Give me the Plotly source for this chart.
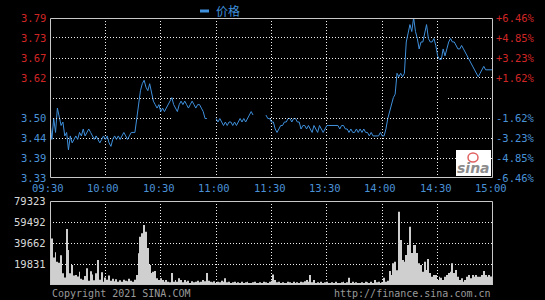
import plotly.graph_objects as go

# ---------------- data ----------------
minutes = list(range(241))
price = [
    3.49, 3.44, 3.50, 3.46, 3.53, 3.50, 3.48, 3.49, 3.45, 3.46,
    3.41, 3.45, 3.43, 3.44, 3.45, 3.44, 3.46, 3.45, 3.47, 3.45,
    3.46, 3.47, 3.46, 3.45, 3.44, 3.45, 3.44, 3.43, 3.44, 3.45,
    3.44, 3.45, 3.43, 3.42, 3.44, 3.45, 3.44, 3.45, 3.44, 3.45,
    3.46, 3.45, 3.44, 3.45, 3.46, 3.46, 3.46, 3.50, 3.54, 3.58,
    3.60, 3.61, 3.59, 3.58, 3.60, 3.57, 3.55, 3.54, 3.53, 3.54,
    3.52, 3.53, 3.52, 3.53, 3.54, 3.55, 3.56, 3.54, 3.53, 3.52,
    3.54, 3.55, 3.54, 3.55, 3.54, 3.53, 3.54, 3.55, 3.54, 3.53,
    3.54, 3.54, 3.53, 3.52, 3.50, 3.50, None, None, None, None,
    3.50, 3.49, 3.50, 3.49, 3.48, 3.49, 3.48, 3.49, 3.49, 3.48,
    3.49, 3.48, 3.49, 3.50, 3.49, 3.50, 3.49, 3.50, 3.51, 3.52,
    3.51, None, None, None, None, None, None, 3.51, 3.50, 3.50,
    3.49, 3.49, 3.47, 3.46, 3.47, 3.48, 3.48, 3.49, 3.49, 3.50,
    3.50, 3.49, 3.50, 3.50, 3.49, 3.49, 3.47, 3.48, 3.48, 3.47,
    3.48, 3.47, 3.46, 3.48, 3.47, 3.46, 3.48, 3.47, 3.46, 3.47,
    3.48, 3.48, 3.48, 3.48, 3.48, 3.48, 3.48, 3.47, 3.48, 3.48,
    3.47, 3.47, 3.46, 3.47, 3.46, 3.46, 3.47, 3.46, 3.47, 3.46,
    3.47, 3.46, 3.46, 3.45, 3.46, 3.45, 3.45, 3.45, 3.45, 3.46,
    3.45, 3.45, 3.47, 3.50, 3.52, 3.54, 3.56, 3.57, 3.63, 3.62,
    3.63, 3.62, 3.63, 3.72, 3.75, 3.77, 3.75, 3.79, 3.75, 3.73,
    3.70, 3.72, 3.72, 3.75, 3.77, 3.73, 3.72, 3.72, 3.73, 3.71,
    3.68, 3.67, 3.67, 3.70, 3.68, 3.70, 3.72, 3.73, 3.72, 3.72,
    3.71, 3.70, 3.70, 3.71, 3.70, 3.69, 3.68, 3.67, 3.66, 3.65,
    3.64, 3.63, 3.62, 3.63, 3.64, 3.65, 3.64, 3.64, 3.64, 3.64,
    3.64,
]
volume = [
    30000, 44000, 26000, 31000, 22000, 21000, 28000, 11000, 7000, 53000,
    33000, 11000, 19000, 9000, 9500, 8000, 12600, 6000, 5000, 8500,
    15700, 4000, 13000, 10000, 4500, 11000, 23600, 5000, 12000, 3000,
    7000, 5000, 9000, 4000, 6000, 3500, 5500, 3000, 4500, 3000,
    5000, 4000, 3500, 6000, 4000, 3000, 5000, 9400, 30000, 45600,
    48800, 56600, 50300, 34900, 18900, 11300, 12600, 13200, 6300, 4700,
    6300, 4700, 3100, 4700, 3100, 2500, 11300, 3000, 4700, 3100,
    6300, 4700, 2500, 4700, 3000, 4000, 2000, 3500, 2500, 3000,
    4000, 2500, 3000, 4700, 3500, 11300, 4000, 3000, 2500, 3500,
    2000, 3000, 2500, 4000, 3000, 6300, 2500, 3000, 2000, 2500,
    3000, 2000, 2500, 1500, 3000, 2000, 2500, 3000, 1500, 2000,
    2500, 3000, 2000, 1500, 2500, 2000, 3000, 2500, 2000, 3000,
    4000, 10000, 4700, 2500, 3000, 2000, 2500, 1500, 2000, 3000,
    2500, 2000, 3000, 1500, 2500, 2000, 3000, 2500, 3500, 4700,
    3000, 9400, 2500, 4700, 2000, 2500, 1500, 3000, 2000, 2500,
    3150, 2000, 1500, 2500, 2000, 3000, 1500, 2000, 2500, 3000,
    2000, 2500, 6900, 2000, 3000, 1500, 2500, 2000, 1500, 2500,
    2000, 3150, 2500, 2000, 3000, 1500, 4700, 2500, 3000, 2000,
    2500, 6900, 3000, 4000, 13200, 9400, 20500, 22000, 14000, 69200,
    42500, 23600, 22000, 28300, 37800, 55000, 30200, 37800, 37800, 30200,
    20500, 18900, 12600, 22000, 14200, 24500, 11300, 7900, 9400, 9400,
    4700, 7900, 6900, 4700, 7900, 9400, 11300, 12600, 20500, 11300,
    14200, 7900, 4700, 6300, 3100, 4700, 7900, 9400, 6300, 9400,
    7900, 9400, 7900, 7900, 9400, 13200, 9400, 7900, 9400, 8000,
    9000,
]
prev_close = 3.559
pct_labels = [6.46, 4.85, 3.23, 1.62, -1.62, -3.23, -4.85, -6.46]
vol_ticks = [79323, 59492, 39662, 19831]
time_labels = ["09:30", "10:00", "10:30", "11:00", "11:30", "13:30", "14:00", "14:30", "15:00"]
time_pos = [0, 30, 60, 90, 120, 150, 180, 210, 240]

# ---------------- style / geometry ----------------
W, H = 545, 300
L, R, T, B = 50, 52, 18, 15
plot_w = W - L - R
plot_h = H - T - B
PRICE_TOP, PRICE_BOT = 18, 178
VOL_TOP, VOL_BOT = 201, 285


def py(pix):  # pixel y -> paper y
    return (H - B - pix) / plot_h


def px(pix):  # pixel x -> paper x
    return (pix - L) / plot_w


RED = "#d02626"
BLUE = "#4a92d8"
GRID = "#f0f0f0"
DOT = "1px,2px"
FONT = "DejaVu Sans Mono"

ymax = prev_close * (1 + pct_labels[0] / 100)
ymin = prev_close * (1 + pct_labels[-1] / 100)
levels = [prev_close * (1 + p / 100) for p in pct_labels]


def price_pix(v):
    return PRICE_TOP + (ymax - v) / (ymax - ymin) * (PRICE_BOT - PRICE_TOP)


def snap(p):
    return round(p) + 0.5


fig = go.Figure()
fig.add_trace(go.Bar(x=minutes, y=volume, marker=dict(color="#cfcfcf", line=dict(width=0)),
                     xaxis="x2", yaxis="y2", showlegend=False))
fig.add_trace(go.Scatter(x=minutes, y=price, mode="lines", line=dict(color="#3f90dc", width=1),
                         xaxis="x", yaxis="y", showlegend=False, connectgaps=False))

price_dom = [py(PRICE_BOT), 1.0]
vol_dom = [0.0, py(VOL_TOP)]

axis_common = dict(showticklabels=False, ticks="", showline=False, zeroline=False,
                   showgrid=True, gridwidth=1, gridcolor=GRID, griddash=DOT, tickmode="array")

fig.update_layout(
    width=W, height=H, margin=dict(l=L, r=R, t=T, b=B),
    paper_bgcolor="black", plot_bgcolor="black",
    bargap=0.5,
    xaxis=dict(domain=[0, 1], range=[0, 240], tickvals=time_pos[1:-1], **axis_common),
    yaxis=dict(domain=price_dom, range=[ymin, ymax],
               tickvals=[levels[1], levels[2], levels[3], levels[5], levels[6]], **axis_common),
    xaxis2=dict(domain=[0, 1], range=[0, 240], anchor="y2", tickvals=time_pos[1:-1], **axis_common),
    yaxis2=dict(domain=vol_dom, range=[0, vol_ticks[0]], anchor="x2", tickvals=vol_ticks[1:], **axis_common),
)

shapes = []


def hseg(pix_y, x_from, x_to):
    yy = py(snap(pix_y))
    shapes.append(dict(type="line", xref="paper", yref="paper", x0=px(x_from), x1=px(x_to), y0=yy, y1=yy,
                       line=dict(color=GRID, width=1, dash=DOT), layer="above"))


# partial price gridlines as seen in the reference
hseg(price_pix(prev_close), L, 327)
hseg(price_pix(prev_close), 448, W - R)
hseg(price_pix(levels[4]), L, 173)
hseg(price_pix(levels[4]), 270, W - R)

# watermark
shapes.append(dict(type="rect", xref="paper", yref="paper", x0=px(456), x1=px(491), y0=py(176), y1=py(150),
                   fillcolor="white", line=dict(width=0), layer="above"))
shapes.append(dict(type="circle", xref="paper", yref="paper", x0=px(468), x1=px(478), y0=py(162), y1=py(153),
                   line=dict(color="#e06060", width=1.5), layer="above"))

# panel borders
for top, bot in [(PRICE_TOP, PRICE_BOT), (VOL_TOP, VOL_BOT)]:
    shapes.append(dict(type="rect", xref="paper", yref="paper", x0=px(L + 0.5), x1=px(W - R - 0.5),
                       y0=py(bot - 0.5), y1=py(top + 0.5), line=dict(color="#c8c8c8", width=1), layer="above"))

# legend dash
shapes.append(dict(type="line", xref="paper", yref="paper", x0=px(200), x1=px(209), y0=py(11), y1=py(11),
                   line=dict(color="#3f90dc", width=3)))

ann = []
for p, lv in zip(pct_labels, levels):
    col = RED if p > 0 else BLUE
    ann.append(dict(xref="paper", yref="y", x=0, y=lv, xanchor="right", yanchor="middle", xshift=-2,
                    text=f"{lv:.2f}", showarrow=False, font=dict(family=FONT, size=10.5, color=col)))
    ann.append(dict(xref="paper", yref="y", x=1, y=lv, xanchor="left", yanchor="middle", xshift=1,
                    text=f"{p:+.2f}%", showarrow=False, font=dict(family=FONT, size=10.5, color=col)))
for v in vol_ticks:
    ann.append(dict(xref="paper", yref="y2", x=0, y=v, xanchor="right", yanchor="middle", xshift=-2,
                    text=str(v), showarrow=False, font=dict(family=FONT, size=10.5, color="#d8d8d8")))
for t, lab in zip(time_pos, time_labels):
    ann.append(dict(xref="x", yref="paper", x=t, y=py(188), xanchor="center", yanchor="middle", xshift=-2,
                    text=lab, showarrow=False, font=dict(family=FONT, size=10.5, color=BLUE)))
ann.append(dict(xref="paper", yref="paper", x=0, y=py(293), xanchor="left", yanchor="middle",
                text="Copyright 2021 SINA.COM", showarrow=False, font=dict(family=FONT, size=10, color="#9a9a9a")))
ann.append(dict(xref="paper", yref="paper", x=1, y=py(293), xanchor="right", yanchor="middle",
                text="http://finance.sina.com.cn", showarrow=False, font=dict(family=FONT, size=10, color="#9a9a9a")))
ann.append(dict(xref="paper", yref="paper", x=px(214), y=py(11), xanchor="left", yanchor="middle",
                text="价格", showarrow=False, font=dict(family="Noto Sans CJK SC", size=12, color="#3f90dc")))
ann.append(dict(xref="paper", yref="paper", x=px(473), y=py(168), xanchor="center", yanchor="middle",
                text="<b><i>sina</i></b>", showarrow=False, font=dict(family="DejaVu Sans", size=14, color="#8c8c8c")))

fig.update_layout(shapes=shapes, annotations=ann)
fig.write_html("out.html")
